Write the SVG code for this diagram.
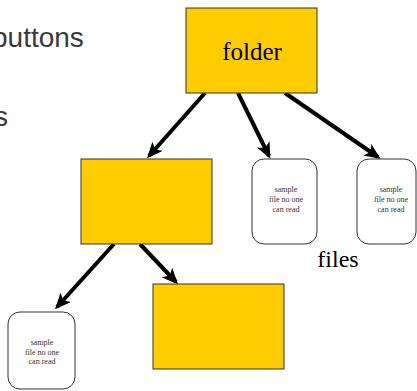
<svg xmlns="http://www.w3.org/2000/svg" width="417" height="391" viewBox="0 0 417 391">
<style>
.side{font-family:"Liberation Sans",Arial,sans-serif;font-size:28px;fill:#3a3a3a}
.box{fill:#ffcc00;stroke:#333;stroke-width:1}
.file{fill:#fff;stroke:#333;stroke-width:1}
.small{font-family:"Liberation Serif","Times New Roman",serif;font-size:8px;fill:#333;text-anchor:middle}
.big{font-family:"Liberation Serif","Times New Roman",serif;fill:#000}
.conn{stroke:#000;stroke-width:4;fill:none;marker-end:url(#ah)}
</style>
<defs>
<marker id="ah" markerUnits="userSpaceOnUse" viewBox="0 0 16 14" refX="13" refY="7" markerWidth="16" markerHeight="14" orient="auto">
<path d="M0,0 L16,7 L0,14 L4,7 z" fill="#000"/>
</marker>
</defs>
<rect width="417" height="391" fill="#fff"/>
<text class="side" x="-8" y="47">buttons</text>
<text class="side" x="8" y="126" text-anchor="end">s</text>
<g id="connectors">
<line class="conn" x1="205" y1="93" x2="149" y2="156"/>
<line class="conn" x1="238" y1="93" x2="269" y2="156"/>
<line class="conn" x1="285" y1="93" x2="378" y2="157"/>
<line class="conn" x1="114" y1="244" x2="57" y2="307"/>
<line class="conn" x1="140" y1="244" x2="176" y2="282"/>
</g>
<g id="folder">
<rect class="box" x="186" y="8" width="131" height="85"/>
<text class="big" x="252" y="60" font-size="25" text-anchor="middle">folder</text>
</g>
<g id="subfolder">
<rect class="box" x="81" y="159" width="131" height="85"/>
</g>
<g id="subfolder2">
<rect class="box" x="153" y="284" width="131" height="85"/>
</g>
<g id="file1">
<rect class="file" x="252" y="159" width="65" height="85" rx="12"/>
<text class="small" x="286" y="192">sample</text>
<text class="small" x="286" y="202">file no one</text>
<text class="small" x="286" y="212">can read</text>
</g>
<g id="file2">
<rect class="file" x="357" y="159" width="59" height="85" rx="12"/>
<text class="small" x="391" y="192">sample</text>
<text class="small" x="391" y="202">file no one</text>
<text class="small" x="391" y="212">can read</text>
</g>
<g id="file3">
<rect class="file" x="8" y="312" width="67" height="77" rx="12"/>
<text class="small" x="42" y="345">sample</text>
<text class="small" x="42" y="355">file no one</text>
<text class="small" x="42" y="364">can read</text>
</g>
<g id="files-label">
<text class="big" x="338" y="267" font-size="24" text-anchor="middle">files</text>
</g>
</svg>
